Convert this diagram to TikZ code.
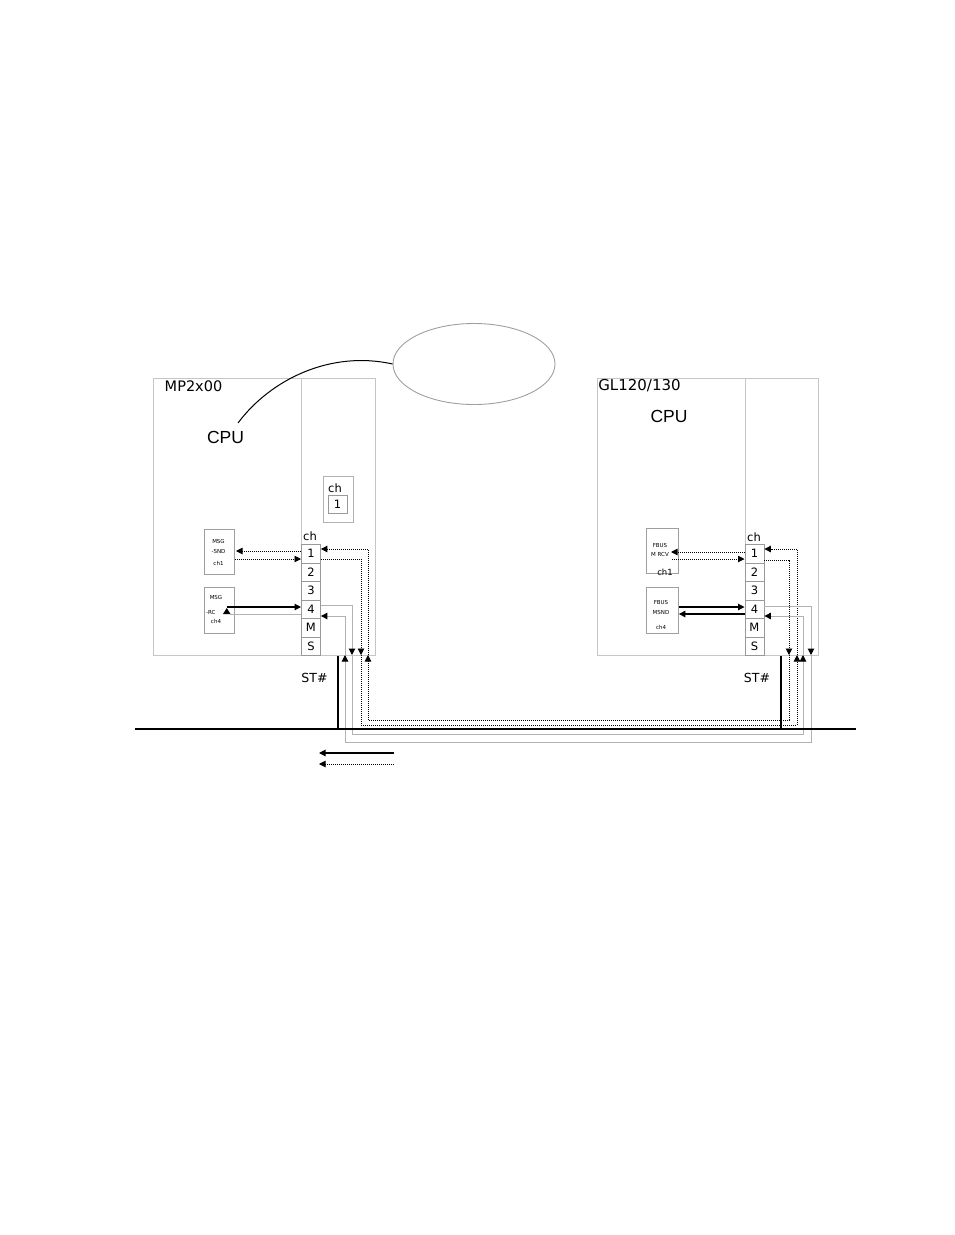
\documentclass[tikz,border=0pt]{standalone}
\usepackage{fontspec}
\setmainfont{DejaVu Sans}
\newfontfamily\cpufont{Liberation Sans}
\usetikzlibrary{arrows.meta,shapes.geometric}
\begin{document}
\begin{tikzpicture}[x=1pt,y=-1pt,
  tri/.tip={Triangle[length=6.5pt,width=6.5pt,black]},
  frame/.style={draw=gray!45,line width=1.1pt,inner sep=0pt,anchor=north west},
  cellbox/.style={draw=gray!80,line width=0.9pt,minimum width=19pt,minimum height=18.5pt,inner sep=0pt,anchor=north west,font=\fontsize{11.5}{11.5}\selectfont},
  smallbox/.style={draw=gray!75,line width=0.9pt,minimum width=30pt,minimum height=45pt,inner sep=0pt,anchor=north west},
  tiny/.style={font=\fontsize{5.5}{5.5}\selectfont,inner sep=0pt},
  lbl/.style={font=\fontsize{11.5}{11.5}\selectfont,inner sep=0pt},
  dotl/.style={line width=0.9pt,dash pattern=on 1pt off 1pt},
  grayl/.style={draw=gray!60,line width=1pt},
  solidl/.style={line width=1.1pt}]
\path[use as bounding box] (0,0) rectangle (954,1235);

% outer boxes
\node[frame,minimum width=222pt,minimum height=277pt] (LB) at (153,378) {};
\node[frame,minimum width=74pt,minimum height=277pt] (LIO) at (301,378) {};
\node[frame,minimum width=221pt,minimum height=277pt] (RB) at (597,378) {};
\node[frame,minimum width=73pt,minimum height=277pt] (RIO) at (745,378) {};

% ellipse and CPU callout
\node[draw=gray!75,line width=0.9pt,ellipse,minimum width=162pt,minimum height=81pt,inner sep=0pt] (ELL) at (474,364) {};
\node[font=\cpufont\fontsize{17.5}{17.5}\selectfont,inner sep=0pt] (cpuL) at (225.5,437.5) {CPU};
\node[font=\cpufont\fontsize{17.5}{17.5}\selectfont,inner sep=0pt] (cpuR) at (669,416.5) {CPU};
\coordinate (curveS) at (238,423);
\draw[line width=1pt] (curveS) .. controls (270,380) and (330,350) .. (ELL.west);

\node[font=\fontsize{14.5}{14.5}\selectfont,inner sep=0pt] (mpL) at (193.5,386.5) {MP2x00};
\node[font=\fontsize{15}{15}\selectfont,inner sep=0pt] (glR) at (639.5,386) {GL120/130};

% small ch box
\node[draw=gray!60,line width=0.9pt,minimum width=30pt,minimum height=46pt,inner sep=0pt,anchor=north west] (chbox) at (323,476) {};
\node[lbl] (chboxlbl) at (335,488) {ch};
\node[draw=gray!80,line width=0.9pt,minimum width=19pt,minimum height=18pt,inner sep=0pt,font=\fontsize{11.5}{11.5}\selectfont] (chone) at (337.5,504) {1};

% channel columns
\node[lbl] (Lch) at (310,536) {ch};
\node[cellbox] (L1) at (301,544) {1};
\node[cellbox] (L2) at (301,562.5) {2};
\node[cellbox] (L3) at (301,581) {3};
\node[cellbox] (L4) at (301,599.5) {4};
\node[cellbox] (LM) at (301,618) {M};
\node[cellbox] (LS) at (301,636.5) {S};

\node[lbl] (Rch) at (754,537) {ch};
\node[cellbox] (R1) at (744.5,544) {1};
\node[cellbox] (R2) at (744.5,562.5) {2};
\node[cellbox] (R3) at (744.5,581) {3};
\node[cellbox] (R4) at (744.5,599.5) {4};
\node[cellbox] (RM) at (744.5,618) {M};
\node[cellbox] (RS) at (744.5,636.5) {S};

% function boxes left
\node[smallbox] (msgsnd) at (204,529) {};
\node[tiny] at (218.5,541) {MSG};
\node[tiny] at (218.5,551) {-SND};
\node[tiny] at (218.5,563) {ch1};
\node[smallbox,minimum height=46pt] (msgrc) at (204,587) {};
\node[tiny] at (216,597) {MSG};
\node[tiny,anchor=west] at (206,612) {-RC};
\node[tiny] at (216,621) {ch4};

% function boxes right
\node[smallbox,minimum width=32pt] (mrcv) at (646,528) {};
\node[tiny] at (660,545) {FBUS};
\node[tiny] at (660,554) {M RCV};
\node[font=\fontsize{8.5}{8.5}\selectfont,inner sep=0pt] at (665,572) {ch1};
\node[smallbox,minimum width=32pt,minimum height=46pt] (msnd) at (646,587) {};
\node[tiny] at (661,602) {FBUS};
\node[tiny] at (661,612) {MSND};
\node[tiny] at (661,627) {ch4};

% left internal arrows
\draw[dotl,-tri] (L1.west |- 0,551) -- (236,551);
\draw[dotl,-tri] (msgsnd.east |- 0,559) -- (L1.west |- 0,559);
\draw[solidl,-tri] (227,607) -- (L4.west |- 0,607);
\draw[grayl] (L4.west |- 0,614) -- (230,614);
\fill (223,614) -- (230.5,614) -- (226.75,608) -- cycle;

% right internal arrows
\draw[dotl,-tri] (R1.west |- 0,552) -- (671,552);
\draw[dotl,-tri] (672,559) -- (R1.west |- 0,559);
\draw[solidl,-tri] (msnd.east |- 0,607) -- (R4.west |- 0,607);
\draw[solidl,-tri] (R4.west |- 0,614) -- (msnd.east |- 0,614);

% left side port lines
\draw[dotl,-tri] (368,655) |- (L1.east |- 0,549);
\draw[dotl,-tri] (L1.east |- 0,559) -| (361,655);
\draw[grayl,-tri] (L4.east |- 0,605) -| (352,655);
\draw[grayl,-tri] (345,655) |- (L4.east |- 0,616);

% right side port lines
\draw[dotl,-tri] (797,655) |- (R1.east |- 0,549);
\draw[dotl,-tri] (R1.east |- 0,560) -| (789,655);
\draw[grayl,-tri] (R4.east |- 0,606) -| (811,655);
\draw[grayl,-tri] (803,655) |- (R4.east |- 0,616);

% external links
\draw[dotl,-tri] (789,655) |- (368,720) -- (368,655);
\draw[dotl,-tri] (361,655) |- (797,725) -- (797,655);
\draw[grayl,-tri] (352,655) |- (803,734) -- (803,655);
\draw[grayl,-tri] (811,655) |- (345,742) -- (345,655);

% bus and station lines
\coordinate (busL) at (135,729);
\coordinate (busR) at (856,729);
\draw[line width=1.1pt] (busL) -- (busR);
\draw[line width=2.2pt] (LB.south -| 338,0) -- (busL -| 338,0);
\draw[line width=1.1pt] (RB.south -| 781,0) -- (busR -| 781,0);
\node[font=\fontsize{12.5}{12.5}\selectfont,inner sep=0pt] (stL) at (314.5,678) {ST\#};
\node[font=\fontsize{12.5}{12.5}\selectfont,inner sep=0pt] (stR) at (757,678) {ST\#};

% legend
\coordinate (lg1s) at (394,753);
\coordinate (lg1e) at (319,753);
\coordinate (lg2s) at (394,764);
\coordinate (lg2e) at (319,764);
\draw[solidl,-tri] (lg1s) -- (lg1e);
\draw[dotl,-tri] (lg2s) -- (lg2e);
\end{tikzpicture}
\end{document}
